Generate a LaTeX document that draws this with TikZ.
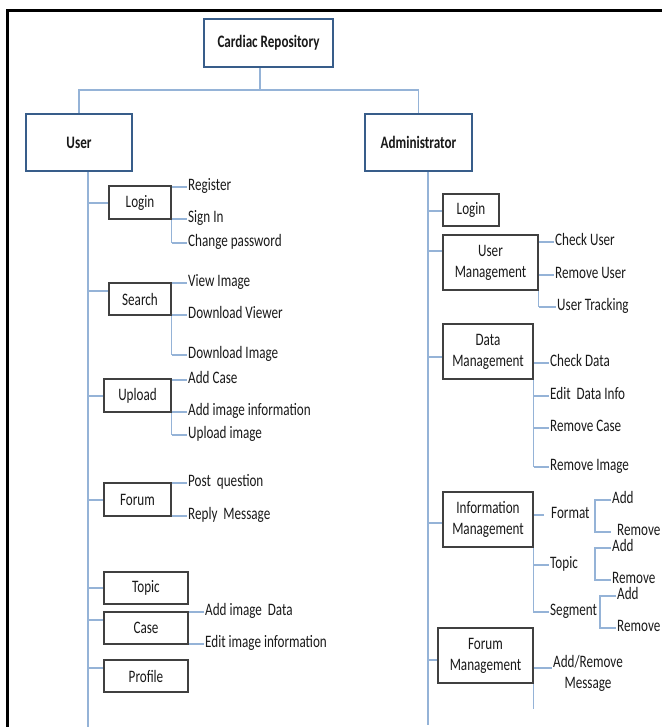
\documentclass[tikz,border=0pt]{standalone}
\usepackage{fontspec}
\setmainfont{Carlito}[FakeStretch=0.75]
\usetikzlibrary{calc}

\definecolor{linkblue}{RGB}{149,179,215}
\definecolor{headedge}{RGB}{56,93,138}
\definecolor{boxedge}{RGB}{64,64,64}
\definecolor{ink}{RGB}{25,25,25}

\pgfdeclarelayer{bg}
\pgfsetlayers{bg,main}

\tikzset{
  lbl/.style={font=\fontsize{17.5}{21}\selectfont, text=ink},
  conn/.style={draw=linkblue, line width=1.3pt},
  headbox/.style={lbl, draw=headedge, line width=2.4pt, fill=white, inner sep=0pt, font=\fontsize{17.5}{21}\selectfont\bfseries},
  subbox/.style={lbl, draw=boxedge, line width=1.3pt, fill=white, align=center, inner sep=0pt},
  leaf/.style={lbl, anchor=west, inner xsep=1pt, inner ysep=0pt, text height=0.62em, text depth=0pt},
}

\begin{document}
\begin{tikzpicture}[x=1pt,y=-1pt]
\useasboundingbox (0,0) rectangle (661,727);

% page frame (left and top edges)
\draw[line width=2.6pt] (7.5,730) -- (7.5,10.5) -- (665,10.5);

% ---------- top levels ----------
\node[headbox, minimum width=129, minimum height=48] (root) at (268.5,43) {Cardiac Repository};
\node[headbox, minimum width=106, minimum height=57] (user) at (79,142.5) {User};
\node[headbox, minimum width=107, minimum height=57] (admin) at (418.5,142.5) {Administrator};
\coordinate (hub) at (260,90);
\coordinate (ux) at (88,0);
\coordinate (ax) at (428,0);

% ---------- user side ----------
\node[subbox, minimum width=62, minimum height=33] (ulogin)  at (140,202.5) {Login};
\node[subbox, minimum width=62, minimum height=32] (usearch) at (140,299)   {Search};
\node[subbox, minimum width=67, minimum height=33] (uupload) at (137.5,395.5) {Upload};
\node[subbox, minimum width=67, minimum height=33] (uforum)  at (137.5,499.5) {Forum};
\node[subbox, minimum width=84, minimum height=32] (utopic)  at (146,588)   {Topic};
\node[subbox, minimum width=84, minimum height=32] (ucase)   at (146,628)   {Case};
\node[subbox, minimum width=84, minimum height=32] (uprof)   at (146,676)   {Profile};

\node[leaf] (ureg)   at (187,187) {Register};
\node[leaf] (usign)  at (187,219) {Sign In};
\node[leaf] (uchpw)  at (187,243) {Change password};
\node[leaf] (uview)  at (187,283) {View Image};
\node[leaf] (udlv)   at (187,315) {Download Viewer};
\node[leaf] (udli)   at (187,355) {Download Image};
\node[leaf] (uadd)   at (187,380) {Add Case};
\node[leaf] (uainf)  at (187,412) {Add image information};
\node[leaf] (uupi)   at (187,435) {Upload image};
\node[leaf] (upost)  at (187,483) {Post\ \ question};
\node[leaf] (ureply) at (187,516) {Reply\ \ Message};
\node[leaf] (uaid)   at (204,612) {Add image\ \ Data};
\node[leaf] (ueii)   at (204,644) {Edit image information};

% ---------- administrator side ----------
\node[subbox, minimum width=56, minimum height=32] (alogin) at (471,210)   {Login};
\node[subbox, minimum width=95, minimum height=55] (auser)  at (490.5,262.5) {User\\Management};
\node[subbox, minimum width=90, minimum height=55] (adata)  at (488,351.5) {Data\\Management};
\node[subbox, minimum width=90, minimum height=55] (ainfo)  at (488,519.5) {Information\\Management};
\node[subbox, minimum width=95, minimum height=55] (aforum) at (485.5,655.5) {Forum\\Management};

\node[leaf] (achu)  at (554,242) {Check User};
\node[leaf] (armu)  at (554,275) {Remove User};
\node[leaf] (autr)  at (556,307) {User Tracking};
\node[leaf] (achd)  at (549,363) {Check Data};
\node[leaf] (aedi)  at (549,396) {Edit\ \ Data Info};
\node[leaf] (armc)  at (549,428) {Remove Case};
\node[leaf] (armi)  at (549,467) {Remove Image};
\node[leaf] (afmt)  at (550,515) {Format};
\node[leaf] (afadd) at (611,500) {Add};
\node[leaf] (afrem) at (616,532) {Remove};
\node[leaf] (atop)  at (549,565) {Topic};
\node[leaf] (atadd) at (611,548) {Add};
\node[leaf] (atrem) at (611,580) {Remove};
\node[leaf] (aseg)  at (549,612) {Segment};
\node[leaf] (asadd) at (616,596) {Add};
\node[leaf] (asrem) at (616,628) {Remove};
\node[lbl, align=center, inner sep=1pt] (amsg) at (588,673) {Add/Remove\\Message};

% ---------- connectors ----------
\begin{pgfonlayer}{bg}
  % tree head
  \draw[conn] ([xshift=-8.5pt]root.south) -- (hub);
  \draw[conn] (user.north) |- (hub) -| (admin.north);

  % user trunk and branches
  \draw[conn] (ux |- user.south) -- (ux |- 0,730);
  \draw[conn] (ux |- 0,203) -- (ulogin.west |- 0,203);
  \draw[conn] (ux |- 0,291) -- (usearch.west |- 0,291);
  \draw[conn] (ux |- 0,396) -- (uupload.west |- 0,396);
  \draw[conn] (ux |- 0,500) -- (uforum.west |- 0,500);
  \draw[conn] (ux |- 0,588) -- (utopic.west |- 0,588);
  \draw[conn] (ux |- 0,620) -- (ucase.west |- 0,620);
  \draw[conn] (ux |- 0,668) -- (uprof.west |- 0,668);

  % user leaves
  \draw[conn] (ulogin.east |- ureg.west) -- (ulogin.east |- uchpw.west);
  \foreach \n in {ureg,usign,uchpw} \draw[conn] (ulogin.east |- \n.west) -- (\n.west);
  \draw[conn] (usearch.east |- uview.west) -- (usearch.east |- udli.west);
  \foreach \n in {uview,udlv,udli} \draw[conn] (usearch.east |- \n.west) -- (\n.west);
  \draw[conn] (uupload.east |- uadd.west) -- (uupload.east |- uupi.west);
  \foreach \n in {uadd,uainf,uupi} \draw[conn] (uupload.east |- \n.west) -- (\n.west);
  \foreach \n in {upost,ureply} \draw[conn] (uforum.east |- \n.west) -- (\n.west);
  \draw[conn] (ucase.east |- uaid.west) -- (ucase.east |- ueii.west);
  \foreach \n in {uaid,ueii} \draw[conn] (ucase.east |- \n.west) -- (\n.west);

  % administrator trunk and branches
  \draw[conn] (ax |- admin.south) -- (ax |- 0,725);
  \draw[conn] (ax |- 0,211) -- (alogin.west |- 0,211);
  \draw[conn] (ax |- 0,251) -- (auser.west |- 0,251);
  \draw[conn] (ax |- 0,357) -- (adata.west |- 0,357);
  \draw[conn] (ax |- 0,523) -- (ainfo.west |- 0,523);
  \draw[conn] (ax |- 0,660) -- (aforum.west |- 0,660);

  % administrator leaves
  \draw[conn] (auser.east |- achu.west) -- (auser.east |- autr.west);
  \foreach \n in {achu,armu,autr} \draw[conn] (auser.east |- \n.west) -- (\n.west);
  \draw[conn] (adata.east |- achd.west) -- (adata.east |- armi.west);
  \foreach \n in {achd,aedi,armc,armi} \draw[conn] (adata.east |- \n.west) -- (\n.west);

  \draw[conn, shorten >=6pt] (ainfo.east |- afmt.west) -- (afmt.west);
  \draw[conn] (ainfo.south east) |- (aseg.west);
  \draw[conn] (ainfo.east |- atop.west) -- (atop.west);
  \draw[conn, shorten >=5pt] (afadd.west) -- ++(-16,0) |- (afrem.west);
  \draw[conn] (atadd.west) -- ++(-16,0) |- (atrem.west);
  \draw[conn] (asadd.west) -- ++(-16,0) |- (asrem.west);

  \draw[conn] (aforum.east |- 0,668) -- (amsg.west |- 0,668);
  \draw[conn] (aforum.south east) -- ++(0,25);
\end{pgfonlayer}
\end{tikzpicture}
\end{document}
